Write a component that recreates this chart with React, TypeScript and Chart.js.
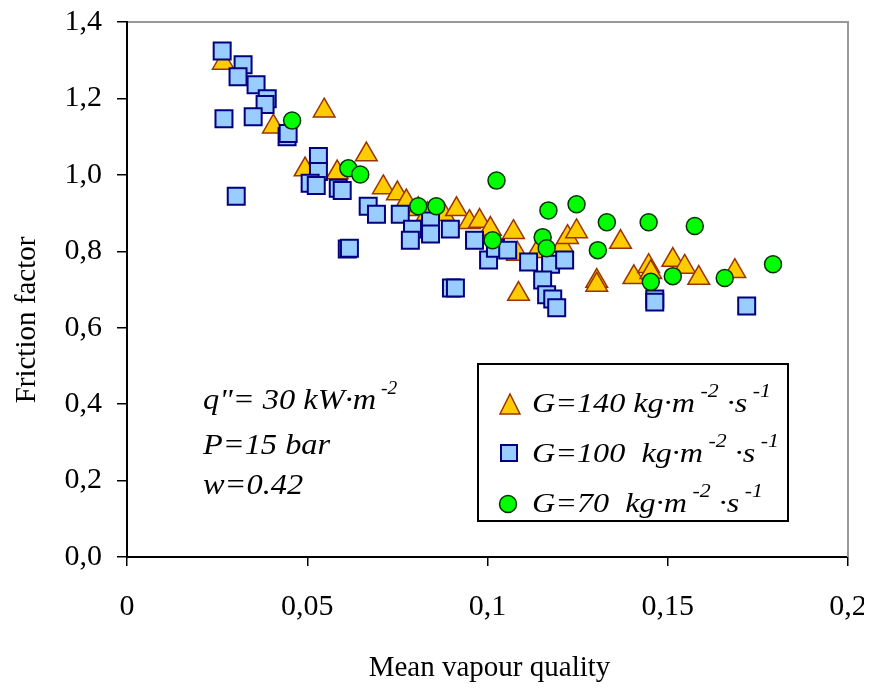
import React, { useEffect, useRef } from 'react';
import { Chart, registerables } from 'chart.js';

Chart.register(...registerables);

const X_TICK_LABELS = ['0', '0,05', '0,1', '0,15', '0,2'];
const Y_TICK_LABELS = ['0,0', '0,2', '0,4', '0,6', '0,8', '1,0', '1,2', '1,4'];
const X_TITLE = 'Mean vapour quality';
const Y_TITLE = 'Friction factor';

// G = 140 (triangles)
const G140_X = [0.0267, 0.0406, 0.0547, 0.0494, 0.0583, 0.0664, 0.0711, 0.075, 0.0775, 0.0808, 0.0833, 0.0878, 0.0914, 0.095, 0.0978, 0.1008, 0.1072, 0.1083, 0.1086, 0.1139, 0.1208, 0.1222, 0.1247, 0.1303, 0.1303, 0.1369, 0.1406, 0.1447, 0.1453, 0.1514, 0.1547, 0.1586, 0.1686];
const G140_Y = [1.293, 1.126, 1.168, 1.014, 1.006, 1.053, 0.967, 0.951, 0.93, 0.91, 0.897, 0.897, 0.91, 0.876, 0.879, 0.858, 0.85, 0.793, 0.688, 0.8, 0.814, 0.837, 0.852, 0.722, 0.712, 0.824, 0.732, 0.761, 0.745, 0.777, 0.759, 0.73, 0.748];

// G = 100 (squares)
const G100_X = [0.0264, 0.0322, 0.0308, 0.0358, 0.0389, 0.0383, 0.035, 0.0269, 0.0444, 0.0447, 0.0531, 0.0531, 0.0508, 0.0525, 0.0586, 0.0597, 0.0303, 0.0669, 0.0692, 0.0611, 0.0617, 0.0758, 0.0792, 0.0786, 0.0842, 0.0842, 0.0897, 0.0964, 0.1003, 0.1022, 0.1056, 0.1114, 0.1175, 0.1214, 0.1153, 0.1164, 0.1181, 0.1192, 0.09, 0.0911, 0.1464, 0.1464, 0.1719];
const G100_Y = [1.324, 1.288, 1.257, 1.236, 1.199, 1.184, 1.152, 1.147, 1.1, 1.108, 1.048, 1.009, 0.978, 0.972, 0.965, 0.959, 0.944, 0.918, 0.897, 0.806, 0.808, 0.897, 0.858, 0.829, 0.879, 0.845, 0.858, 0.829, 0.777, 0.808, 0.803, 0.772, 0.766, 0.777, 0.725, 0.686, 0.675, 0.652, 0.704, 0.704, 0.675, 0.667, 0.657];

// G = 70 (circles)
const G70_X = [0.0458, 0.0614, 0.0647, 0.0808, 0.0858, 0.1025, 0.1014, 0.1169, 0.1153, 0.1164, 0.1247, 0.1306, 0.1331, 0.1447, 0.1453, 0.1514, 0.1575, 0.1658, 0.1792];
const G70_Y = [1.142, 1.017, 1.001, 0.918, 0.918, 0.985, 0.829, 0.907, 0.837, 0.808, 0.923, 0.803, 0.876, 0.876, 0.72, 0.735, 0.866, 0.73, 0.766];

type Seg = { t: string; sup?: boolean };
const LEGEND_LABELS: Seg[][] = [
  [{ t: 'G=140 kg·m' }, { t: ' -2', sup: true }, { t: ' ·s' }, { t: ' -1', sup: true }],
  [{ t: 'G=100  kg·m' }, { t: ' -2', sup: true }, { t: ' ·s' }, { t: ' -1', sup: true }],
  [{ t: 'G=70  kg·m' }, { t: ' -2', sup: true }, { t: ' ·s' }, { t: ' -1', sup: true }],
];
const NOTE_LINES: Seg[][] = [
  [{ t: 'q"= 30 kW·m' }, { t: ' -2', sup: true }],
  [{ t: 'P=15 bar' }],
  [{ t: 'w=0.42' }],
];

const SERIF = '"Liberation Serif", "Times New Roman", Times, serif';

const TRI = { fill: '#FFCC00', stroke: '#993300' };
const SQR = { fill: '#99CCFF', stroke: '#000080' };
const CIR = { fill: '#00FF00', stroke: '#003300' };

function toPts(xs: number[], ys: number[]) {
  return xs.map((x, i) => ({ x, y: ys[i] }));
}

function drawRich(
  ctx: CanvasRenderingContext2D,
  x: number,
  y: number,
  segs: Seg[],
  size: number,
  supSize: number,
  raise: number,
  sx: number
) {
  ctx.save();
  ctx.translate(x, y);
  ctx.scale(sx, 1);
  let cx = 0;
  for (const s of segs) {
    const fs = s.sup ? supSize : size;
    ctx.font = `italic ${fs}px ${SERIF}`;
    ctx.fillText(s.t, cx, s.sup ? -raise : 0);
    cx += ctx.measureText(s.t).width;
  }
  ctx.restore();
}

const overlayPlugin = {
  id: 'overlay',
  afterDraw(chart: any) {
    const ctx: CanvasRenderingContext2D = chart.ctx;
    const { left, right, top, bottom } = chart.chartArea;
    ctx.save();
    // gray frame top & right
    ctx.strokeStyle = '#999999';
    ctx.lineWidth = 2;
    ctx.beginPath();
    ctx.moveTo(left + 1, top);
    ctx.lineTo(right, top);
    ctx.lineTo(right, bottom);
    ctx.stroke();

    // legend box
    const bx = left + 351, by = top + 342, bw = 310, bh = 157;
    ctx.fillStyle = '#ffffff';
    ctx.fillRect(bx, by, bw, bh);
    ctx.strokeStyle = '#000000';
    ctx.lineWidth = 2;
    ctx.strokeRect(bx, by, bw, bh);

    const mx = left + 382;
    const rows = [top + 382, top + 431, top + 482];
    // triangle
    ctx.lineWidth = 1.5;
    ctx.fillStyle = TRI.fill;
    ctx.strokeStyle = TRI.stroke;
    ctx.beginPath();
    ctx.moveTo(mx + 1, rows[0] - 10);
    ctx.lineTo(mx + 11, rows[0] + 10);
    ctx.lineTo(mx - 9, rows[0] + 10);
    ctx.closePath();
    ctx.fill();
    ctx.stroke();
    // square
    ctx.fillStyle = SQR.fill;
    ctx.strokeStyle = SQR.stroke;
    ctx.lineWidth = 2;
    ctx.fillRect(mx - 8, rows[1] - 8, 16, 16);
    ctx.strokeRect(mx - 8, rows[1] - 8, 16, 16);
    // circle
    ctx.fillStyle = CIR.fill;
    ctx.strokeStyle = CIR.stroke;
    ctx.lineWidth = 1.5;
    ctx.beginPath();
    ctx.arc(mx - 1, rows[2], 8.5, 0, Math.PI * 2);
    ctx.fill();
    ctx.stroke();

    ctx.fillStyle = '#000000';
    ctx.textAlign = 'left';
    ctx.textBaseline = 'alphabetic';
    const tx = left + 405;
    const baselines = [top + 390, top + 440, top + 490];
    LEGEND_LABELS.forEach((segs, i) => drawRich(ctx, tx, baselines[i], segs, 28, 19, 15, 1.15));

    // annotation
    const nx = left + 76;
    const nb = [top + 387, top + 432, top + 472];
    NOTE_LINES.forEach((segs, i) => drawRich(ctx, nx, nb[i], segs, 30, 18, 15, 1.08));

    // axis titles
    ctx.font = `29px ${SERIF}`;
    ctx.textAlign = 'center';
    ctx.textBaseline = 'alphabetic';
    ctx.fillText(X_TITLE, (left + right) / 2 + 2, bottom + 119);
    ctx.save();
    ctx.translate(left - 92, top + 298);
    ctx.rotate(-Math.PI / 2);
    ctx.textBaseline = 'alphabetic';
    ctx.fillText(Y_TITLE, 0, 0);
    ctx.restore();

    ctx.restore();
  },
};

export default function App() {
  const ref = useRef<HTMLCanvasElement | null>(null);
  useEffect(() => {
    if (!ref.current) return;
    const chart = new Chart(ref.current, {
      type: 'scatter',
      data: {
        datasets: [
          {
            label: 'G=140',
            data: toPts(G140_X, G140_Y),
            pointStyle: 'triangle',
            pointRadius: 12.5,
            backgroundColor: TRI.fill,
            borderColor: TRI.stroke,
            borderWidth: 1.5,
            order: 3,
          },
          {
            label: 'G=100',
            data: toPts(G100_X, G100_Y),
            pointStyle: 'rect',
            pointRadius: 12,
            backgroundColor: SQR.fill,
            borderColor: SQR.stroke,
            borderWidth: 2,
            order: 2,
          },
          {
            label: 'G=70',
            data: toPts(G70_X, G70_Y),
            pointStyle: 'circle',
            pointRadius: 8.5,
            backgroundColor: CIR.fill,
            borderColor: CIR.stroke,
            borderWidth: 1.5,
            order: 1,
          },
        ],
      },
      options: {
        animation: false,
        responsive: true,
        maintainAspectRatio: false,
        layout: { padding: { left: 0, right: 16, top: 12, bottom: 0 } },
        plugins: { legend: { display: false }, tooltip: { enabled: false } },
        scales: {
          x: {
            type: 'linear',
            min: 0,
            max: 0.2,
            afterFit(scale: any) {
              scale.height = 126;
              scale.paddingLeft = 0;
              scale.paddingRight = 0;
            },
            ticks: {
              stepSize: 0.05,
              autoSkip: false,
              maxRotation: 0,
              padding: 23,
              color: '#000',
              font: { family: SERIF, size: 30 },
              callback: (_v: any, i: number) => X_TICK_LABELS[i],
            },
            grid: { drawOnChartArea: false, drawTicks: true, tickLength: 9, color: '#000', lineWidth: 1.5 },
            border: { display: true, color: '#000', width: 2 },
          },
          y: {
            type: 'linear',
            min: 0,
            max: 1.4,
            afterFit(scale: any) {
              scale.width = 119;
              scale.paddingTop = 0;
              scale.paddingBottom = 0;
            },
            ticks: {
              stepSize: 0.2,
              autoSkip: false,
              padding: 15,
              color: '#000',
              font: { family: SERIF, size: 30 },
              callback: (_v: any, i: number) => Y_TICK_LABELS[i],
            },
            grid: { drawOnChartArea: false, drawTicks: true, tickLength: 10, color: '#000', lineWidth: 1.5 },
            border: { display: true, color: '#000', width: 2 },
          },
        },
      },
      plugins: [overlayPlugin],
    });
    return () => chart.destroy();
  }, []);
  return (
    <div style={{ width: 856, height: 675, position: 'relative' }}>
      <canvas ref={ref} />
    </div>
  );
}
